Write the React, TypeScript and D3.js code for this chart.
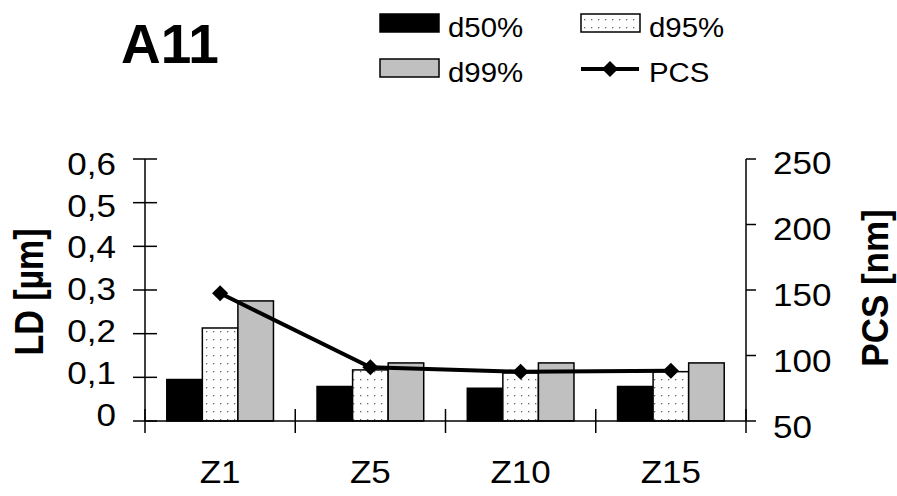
import React, { useEffect, useRef } from 'react';
import * as d3 from 'd3';

const categories = ['Z1', 'Z5', 'Z10', 'Z15'];
const seriesNames = ['d50%', 'd95%', 'd99%'];
const d50 = [0.095, 0.079, 0.075, 0.079];
const d95 = [0.213, 0.117, 0.11, 0.113];
const d99 = [0.275, 0.133, 0.133, 0.133];
const pcs = [147.5, 91, 87.6, 88.4];
const ldTicks = [0, 0.1, 0.2, 0.3, 0.4, 0.5, 0.6];
const pcsTicks = [50, 100, 150, 200, 250];

const W = 897;
const H = 496;

const Chart = () => {
  const svgRef = useRef(null);

  useEffect(() => {
    const svg = d3.select(svgRef.current);
    svg.selectAll('*').remove();

    const left = 145, right = 746, top = 159, bottom = 421;

    const x = d3.scaleBand().domain(categories).range([left, right]).paddingInner(0.29).paddingOuter(0.145);
    const xs = d3.scaleBand().domain(seriesNames).range([0, x.bandwidth()]);
    const yL = d3.scaleLinear().domain([0, 0.6]).range([bottom, top]);
    const yR = d3.scaleLinear().domain([50, 250]).range([bottom, top]);
    // tick labels sit slightly off the ticks in the original
    const yLlab = d3.scaleLinear().domain([0, 0.6]).range([415, 164]);
    const yRlab = d3.scaleLinear().domain([50, 250]).range([427, 163]);

    const font = 'Arial, "Liberation Sans", sans-serif';

    // dotted pattern for d95%
    const defs = svg.append('defs');
    const pat = defs.append('pattern')
      .attr('id', 'dots')
      .attr('patternUnits', 'userSpaceOnUse')
      .attr('width', 7)
      .attr('height', 8);
    pat.append('rect').attr('width', 7).attr('height', 8).attr('fill', '#fff');
    pat.append('rect').attr('x', 3).attr('y', 3).attr('width', 1.3).attr('height', 1.3).attr('fill', '#666');

    const fills = ['#000', 'url(#dots)', '#c0c0c0'];
    const values = [d50, d95, d99];

    // bars
    categories.forEach((c, i) => {
      seriesNames.forEach((s, j) => {
        const v = values[j][i];
        svg.append('rect')
          .attr('x', (x(c) as number) + (xs(s) as number))
          .attr('y', yL(v))
          .attr('width', xs.bandwidth())
          .attr('height', yL(0) - yL(v))
          .attr('fill', fills[j])
          .attr('stroke', '#000')
          .attr('stroke-width', 1.5);
      });
    });

    // axes lines
    const ax = svg.append('g').attr('stroke', '#000').attr('stroke-width', 1.5);
    ax.append('line').attr('x1', left).attr('x2', left).attr('y1', top).attr('y2', bottom);
    ax.append('line').attr('x1', right).attr('x2', right).attr('y1', top).attr('y2', bottom);
    ax.append('line').attr('x1', left).attr('x2', right).attr('y1', bottom).attr('y2', bottom);

    ldTicks.forEach(t => {
      ax.append('line').attr('x1', left - 12).attr('x2', left + 12).attr('y1', yL(t)).attr('y2', yL(t));
    });
    pcsTicks.forEach(t => {
      ax.append('line').attr('x1', right).attr('x2', right + 10).attr('y1', yR(t)).attr('y2', yR(t));
    });
    d3.range(categories.length + 1).forEach(i => {
      const px = left + i * x.step();
      ax.append('line').attr('x1', px).attr('x2', px).attr('y1', bottom - 12).attr('y2', bottom + 12);
    });

    // tick labels
    const fmt = (v: number) => (v === 0 ? '0' : d3.format('.1f')(v).replace('.', ','));
    ldTicks.forEach(t => {
      svg.append('text')
        .attr('transform', `translate(116,${yLlab(t)}) scale(1.13,1)`)
        .attr('text-anchor', 'end')
        .attr('dominant-baseline', 'central')
        .attr('font-family', font)
        .attr('font-size', 31)
        .text(fmt(t));
    });
    pcsTicks.forEach(t => {
      svg.append('text')
        .attr('transform', `translate(773,${yRlab(t)}) scale(1.13,1)`)
        .attr('dominant-baseline', 'central')
        .attr('font-family', font)
        .attr('font-size', 31)
        .text(String(t));
    });
    categories.forEach(c => {
      svg.append('text')
        .attr('transform', `translate(${(x(c) as number) + x.bandwidth() / 2},483) scale(1.13,1)`)
        .attr('text-anchor', 'middle')
        .attr('font-family', font)
        .attr('font-size', 31)
        .text(c);
    });

    // axis titles
    svg.append('text')
      .attr('transform', 'translate(43,292) rotate(-90) scale(1,1.2)')
      .attr('text-anchor', 'middle')
      .attr('font-family', font)
      .attr('font-weight', 'bold')
      .attr('font-size', 34)
      .text('LD [µm]');
    svg.append('text')
      .attr('transform', 'translate(888,288) rotate(-90) scale(1,1.08)')
      .attr('text-anchor', 'middle')
      .attr('font-family', font)
      .attr('font-weight', 'bold')
      .attr('font-size', 35)
      .text('PCS [nm]');

    // PCS line
    const cx = (c: string) => (x(c) as number) + x.bandwidth() / 2;
    const line = d3.line<number>()
      .x((_, i) => cx(categories[i]))
      .y(d => yR(d));
    svg.append('path')
      .attr('d', line(pcs))
      .attr('fill', 'none')
      .attr('stroke', '#000')
      .attr('stroke-width', 4);
    const diamondPath = d3.symbol().type(d3.symbolSquare).size(130)();
    pcs.forEach((v, i) => {
      svg.append('path')
        .attr('transform', `translate(${cx(categories[i])},${yR(v)}) rotate(45)`)
        .attr('d', diamondPath)
        .attr('fill', '#000');
    });

    // title
    svg.append('text')
      .attr('x', 121)
      .attr('y', 63)
      .attr('font-family', font)
      .attr('font-weight', 'bold')
      .attr('font-size', 55)
      .text('A11');

    // legend
    const leg = svg.append('g').attr('font-family', font).attr('font-size', 28);
    const swatches = [
      { name: 'd50%', fill: '#000', x: 380, y: 14 },
      { name: 'd95%', fill: 'url(#dots)', x: 581, y: 14 },
      { name: 'd99%', fill: '#c0c0c0', x: 380, y: 59 },
    ];
    swatches.forEach(s => {
      leg.append('rect')
        .attr('x', s.x).attr('y', s.y).attr('width', 59).attr('height', 18)
        .attr('fill', s.fill).attr('stroke', '#000').attr('stroke-width', 1.5);
      leg.append('text')
        .attr('transform', `translate(${s.x + 68},${s.y + 23}) scale(1.05,1)`)
        .text(s.name);
    });
    leg.append('line')
      .attr('x1', 581).attr('x2', 639).attr('y1', 69).attr('y2', 69)
      .attr('stroke', '#000').attr('stroke-width', 4);
    leg.append('path')
      .attr('transform', 'translate(610,69) rotate(45)')
      .attr('d', diamondPath)
      .attr('fill', '#000');
    leg.append('text')
      .attr('transform', 'translate(649,82) scale(1.05,1)')
      .text('PCS');
  }, []);

  return (
    <svg
      ref={svgRef}
      width={W}
      height={H}
      style={{ position: 'absolute', left: 0, top: 0, background: '#fff' }}
    />
  );
};

export default function App() {
  return <Chart />;
}
